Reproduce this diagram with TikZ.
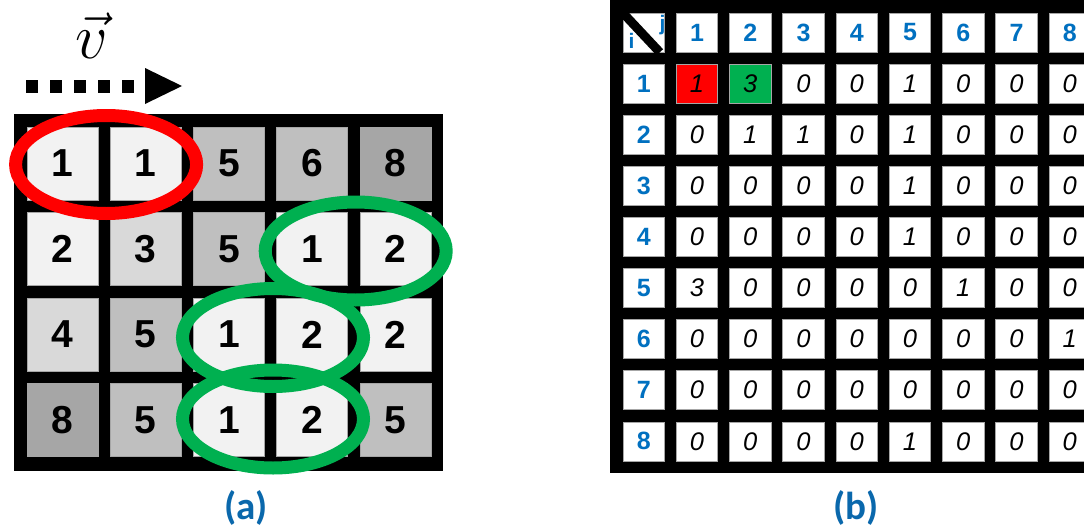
\RequirePackage{fix-cm}
\documentclass[tikz,border=0pt]{standalone}
\usepackage{fontspec}
\newfontfamily\arialf{Liberation Sans}
\newfontfamily\calf{Carlito}
\usetikzlibrary{calc}
\definecolor{cL}{HTML}{F2F2F2}
\definecolor{cM}{HTML}{D9D9D9}
\definecolor{cC}{HTML}{BFBFBF}
\definecolor{cD}{HTML}{A6A6A6}
\definecolor{hblue}{HTML}{0070C0}
\definecolor{lblue}{HTML}{0A68AC}
\definecolor{cRed}{HTML}{FF0000}
\definecolor{cGreen}{HTML}{00B050}
\tikzset{
  acell/.style={draw=black!35, line width=0.6pt, minimum width=71pt, minimum height=73pt, inner sep=0pt,
    font=\arialf\bfseries\fontsize{39}{42}\selectfont},
  bcell/.style={draw=black!35, line width=0.6pt, fill=white, minimum width=41.5pt, minimum height=39pt, inner sep=0pt},
  hnum/.style={bcell, text=hblue, font=\arialf\bfseries\fontsize{25}{28}\selectfont},
  dnum/.style={bcell, font=\arialf\itshape\fontsize{25.5}{28}\selectfont},
  ijlab/.style={text=hblue, font=\arialf\bfseries\fontsize{21}{22}\selectfont, inner sep=0pt},
  ring/.style={draw=#1, line width=13pt},
  dotline/.style={line width=13pt, dash pattern=on 12pt off 12pt},
  sublabel/.style={text=lblue, font=\calf\bfseries\fontsize{39}{42}\selectfont, anchor=base, inner sep=0pt}
}
\begin{document}
\begin{tikzpicture}[x=1pt, y=-1pt]
\useasboundingbox (0,0) rectangle (1084,530);
% ---------- (a) ----------
\node[font=\fontsize{64}{70}\selectfont, anchor=base, inner sep=0pt] (vlab) at (92,58) {$\vec{v}$};
\coordinate (vs) at (26,86);
\coordinate (ve) at (134,86);
\draw[dotline] (vs) -- (ve);
\fill (145,68) -- (182,86) -- (145,104) -- cycle;
\fill[black] (14,114) rectangle (443,471);
\foreach \row [count=\r from 0] in {{1/L,1/L,5/C,6/C,8/D},{2/L,3/M,5/C,1/L,2/L},{4/M,5/C,1/L,2/L,2/L},{8/D,5/C,1/L,2/L,5/C}} {
  \foreach \v/\c [count=\k from 0] in \row {
    \node[acell, fill=c\c] (a-\r-\k) at ({62.5+\k*83.2},{163.5+\r*85.5}) {\v};
  }
}
\draw[ring=cRed] ($(a-0-0)!0.5!(a-0-1)+(2,1)$) ellipse [x radius=90.5pt, y radius=49pt];
\draw[ring=cGreen] ($(a-1-3)!0.5!(a-1-4)+(2,2)$) ellipse [x radius=90.5pt, y radius=49pt];
\draw[ring=cGreen] ($(a-2-2)!0.5!(a-2-3)+(2.5,3)$) ellipse [x radius=90.5pt, y radius=49pt];
\draw[ring=cGreen] ($(a-3-2)!0.5!(a-3-3)+(2.5,-1)$) ellipse [x radius=90.5pt, y radius=49pt];
\node[sublabel] (labA) at (246,519) {(a)};
% ---------- (b) ----------
\begin{scope}
\clip (0,0) rectangle (1084,530);
\fill[black] (610,0) rectangle (1100,473);
\node[bcell] (h-0-0) at (643.75,32.5) {};
\draw[line width=9pt] (h-0-0.north west) -- ($(h-0-0.south east)+(-5,0)$);
\node[ijlab] (jlab) at (662.5,25) {j};
\node[ijlab] (ilab) at (631.5,40.5) {i};
\foreach \k in {1,...,8} {
  \node[hnum] (h-0-\k) at ({643.75+\k*53.25},32.5) {\k};
}
\foreach \r in {1,...,8} {
  \node[hnum] (h-\r-0) at (643.75,{32.5+\r*51.1}) {\r};
}
\node[dnum, fill=cRed] (d-1-1) at ({643.75+1*53.25},{32.5+51.1}) {1};
\node[dnum, fill=cGreen] (d-1-2) at ({643.75+2*53.25},{32.5+51.1}) {3};
\foreach \v [count=\k from 3] in {0,0,1,0,0,0} {
  \node[dnum] (d-1-\k) at ({643.75+\k*53.25},{32.5+51.1}) {\v};
}
\foreach \row [count=\r from 2] in {{0,1,1,0,1,0,0,0},{0,0,0,0,1,0,0,0},{0,0,0,0,1,0,0,0},{3,0,0,0,0,1,0,0},{0,0,0,0,0,0,0,1},{0,0,0,0,0,0,0,0},{0,0,0,0,1,0,0,0}} {
  \foreach \v [count=\k from 1] in \row {
    \node[dnum] (d-\r-\k) at ({643.75+\k*53.25},{32.5+\r*51.1}) {\v};
  }
}
\end{scope}
\node[sublabel] (labB) at (856,519) {(b)};
\end{tikzpicture}
\end{document}
